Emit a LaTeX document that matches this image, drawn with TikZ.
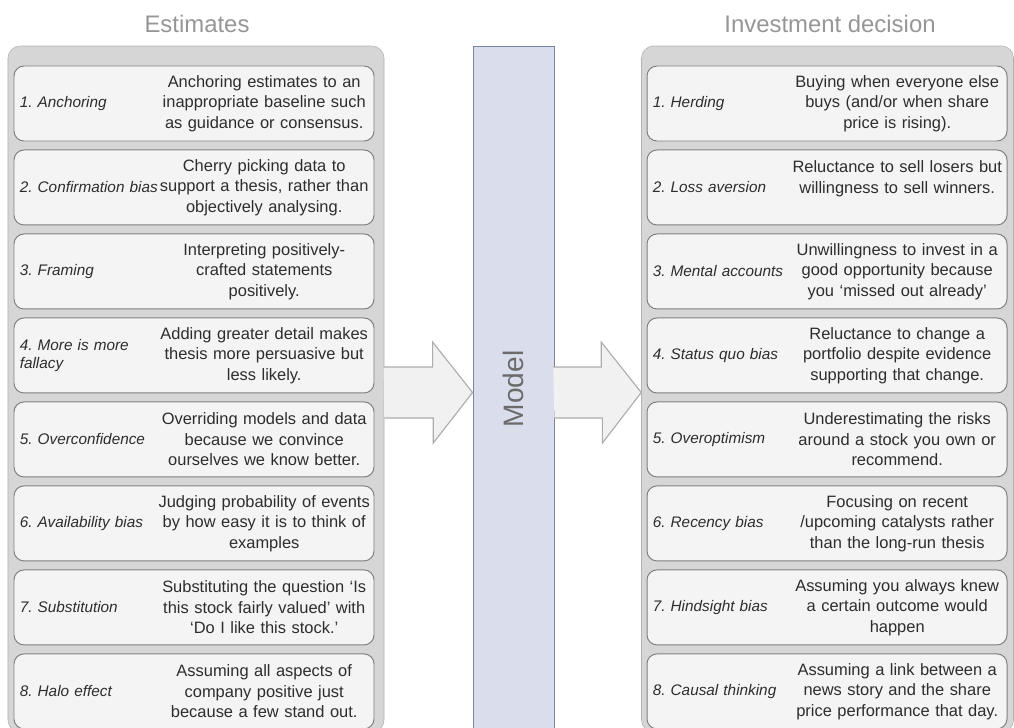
\documentclass[tikz,border=0pt]{standalone}
\usepackage{fontspec}
\setmainfont{Liberation Sans}
\usetikzlibrary{positioning}

\definecolor{panelfill}{RGB}{214,214,214}
\definecolor{panelline}{RGB}{178,178,178}
\definecolor{boxfill}{RGB}{244,244,244}
\definecolor{boxline}{RGB}{128,128,128}
\definecolor{modelfill}{RGB}{218,222,236}
\definecolor{modelline}{RGB}{122,132,165}
\definecolor{arrowfill}{RGB}{241,241,241}
\definecolor{arrowline}{RGB}{172,172,172}
\definecolor{textgray}{RGB}{45,45,45}
\definecolor{headgray}{RGB}{150,150,150}

\frenchspacing
\hyphenpenalty=10000
\exhyphenpenalty=10000

\begin{document}
\begin{tikzpicture}
        [
            node distance = 0.2cm,
            panel/.style = {
                draw=panelline, fill=panelfill, rounded corners=0.3cm,
                minimum height=17.15cm},
            bias/.style = {
                draw=boxline, fill=boxfill, rounded corners=0.25cm, line width=0.7pt,
                minimum width=9cm, minimum height=1.875cm},
            biasname/.style = {
                font=\fontsize{10.9}{13}\selectfont\itshape, text=textgray,
                text width=3.65cm, align=left, inner sep=0pt},
            biasnote/.style = {
                font=\fontsize{11.7}{14.6}\selectfont, text=textgray,
                text width=5.4cm, align=center, inner sep=0pt},
            heading/.style = {font=\fontsize{17}{20}\selectfont, text=headgray},
            modelbar/.style = {
                draw=modelline, fill=modelfill, line width=0.6pt,
                minimum width=2.025cm, minimum height=17.15cm},
            blockarr/.style = {draw=arrowline, fill=arrowfill, line width=0.8pt}
        ]
        \useasboundingbox (0,0) rectangle (25.35,-18.175);
        \clip (0,0) rectangle (25.35,-18.175);

        % columns and the model
        \node [panel, minimum width=9.4cm] (estpanel) at (4.9,-9.725) {};
        \node [panel, minimum width=9.3cm] (invpanel) at (20.6875,-9.725) {};
        \node [modelbar] (model) at (12.8375,-9.725) {};
        \node [font=\fontsize{20}{24}\selectfont, text=black!58, rotate=90] (modelname) at (12.84,-9.725) {Model};

        \node [heading] (esttitle) at (4.925,-0.6) {Estimates};
        \node [heading] (invtitle) at (20.75,-0.6) {Investment decision};

        % block arrows
        \coordinate (arrowrow) at (0,-9.8125);
        \draw [blockarr] (estpanel.east |- arrowrow) ++(0,-0.6375) -- ++(1.225,0) -- ++(0,-0.625)
            -- (model.west |- arrowrow) -- ++(-1.0,1.2625) -- ++(0,-0.625) -- ++(-1.225,0);
        \draw [blockarr] (model.east |- arrowrow) ++(0,-0.6375) -- ++(1.2,0) -- ++(0,-0.625)
            -- (invpanel.west |- arrowrow) -- ++(-1.0,1.2625) -- ++(0,-0.625) -- ++(-1.2,0);

        % estimates
        \node [bias] (est1) at (4.85,-2.5875) {};
        \node [bias] (est2) [below=of est1] {};
        \node [bias] (est3) [below=of est2] {};
        \node [bias] (est4) [below=of est3] {};
        \node [bias] (est5) [below=of est4] {};
        \node [bias] (est6) [below=of est5] {};
        \node [bias] (est7) [below=of est6] {};
        \node [bias] (est8) [below=of est7] {};

        \node [biasname, right=0.15cm of est1.west] (est1n) {1. Anchoring};
        \node [biasname, right=0.15cm of est2.west] (est2n) {2. Confirmation bias};
        \node [biasname, right=0.15cm of est3.west] (est3n) {3. Framing};
        \node [biasname, right=0.15cm of est4.west] (est4n) {4. More is more fallacy};
        \node [biasname, right=0.15cm of est5.west] (est5n) {5. Overconfidence};
        \node [biasname, right=0.15cm of est6.west] (est6n) {6. Availability bias};
        \node [biasname, right=0.15cm of est7.west] (est7n) {7. Substitution};
        \node [biasname, right=0.15cm of est8.west] (est8n) {8. Halo effect};

        \node [biasnote, left=0.05cm of est1.east] (est1d) {Anchoring estimates to an\\inappropriate baseline such\\as guidance or consensus.};
        \node [biasnote, left=0.05cm of est2.east] (est2d) {Cherry picking data to\\support a thesis, rather than\\objectively analysing.};
        \node [biasnote, left=0.05cm of est3.east] (est3d) {Interpreting positively-\\crafted statements\\positively.};
        \node [biasnote, left=0.05cm of est4.east] (est4d) {Adding greater detail makes\\thesis more persuasive but\\less likely.};
        \node [biasnote, left=0.05cm of est5.east] (est5d) {Overriding models and data\\because we convince\\ourselves we know better.};
        \node [biasnote, left=0.05cm of est6.east] (est6d) {Judging probability of events\\by how easy it is to think of\\examples};
        \node [biasnote, left=0.05cm of est7.east] (est7d) {Substituting the question ‘Is\\this stock fairly valued’ with\\‘Do I like this stock.’};
        \node [biasnote, left=0.05cm of est8.east] (est8d) {Assuming all aspects of\\company positive just\\because a few stand out.};

        % investment decision
        \node [bias] (inv1) at (20.675,-2.5875) {};
        \node [bias] (inv2) [below=of inv1] {};
        \node [bias] (inv3) [below=of inv2] {};
        \node [bias] (inv4) [below=of inv3] {};
        \node [bias] (inv5) [below=of inv4] {};
        \node [bias] (inv6) [below=of inv5] {};
        \node [bias] (inv7) [below=of inv6] {};
        \node [bias] (inv8) [below=of inv7] {};

        \node [biasname, right=0.15cm of inv1.west] (inv1n) {1. Herding};
        \node [biasname, right=0.15cm of inv2.west] (inv2n) {2. Loss aversion};
        \node [biasname, right=0.15cm of inv3.west] (inv3n) {3. Mental accounts};
        \node [biasname, right=0.15cm of inv4.west] (inv4n) {4. Status quo bias};
        \node [biasname, right=0.15cm of inv5.west] (inv5n) {5. Overoptimism};
        \node [biasname, right=0.15cm of inv6.west] (inv6n) {6. Recency bias};
        \node [biasname, right=0.15cm of inv7.west] (inv7n) {7. Hindsight bias};
        \node [biasname, right=0.15cm of inv8.west] (inv8n) {8. Causal thinking};

        \node [biasnote, left=0.05cm of inv1.east] (inv1d) {Buying when everyone else\\buys (and/or when share\\price is rising).};
        \node [biasnote, left=0.05cm of inv2.east] (inv2d) {Reluctance to sell losers but\\willingness to sell winners.\\\mbox{}};
        \node [biasnote, left=0.05cm of inv3.east] (inv3d) {Unwillingness to invest in a\\good opportunity  because\\you ‘missed out already’};
        \node [biasnote, left=0.05cm of inv4.east] (inv4d) {Reluctance to change a\\portfolio despite evidence\\supporting that change.};
        \node [biasnote, left=0.05cm of inv5.east] (inv5d) {Underestimating the risks\\around a stock you own or\\recommend.};
        \node [biasnote, left=0.05cm of inv6.east] (inv6d) {Focusing on recent\\/upcoming catalysts rather\\than the long-run thesis};
        \node [biasnote, left=0.05cm of inv7.east] (inv7d) {Assuming you always knew\\a certain outcome would\\happen};
        \node [biasnote, left=0.05cm of inv8.east] (inv8d) {Assuming a link between a\\news story and the share\\price performance that day.};
    \end{tikzpicture}
\end{document}
